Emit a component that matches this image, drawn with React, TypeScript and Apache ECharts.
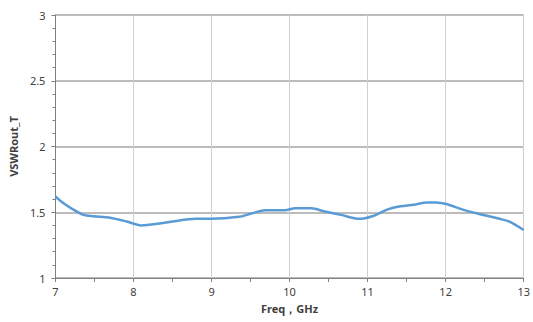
import React, { useEffect, useRef } from "react";
import * as echarts from "echarts";

const freqs = [7.0, 7.1, 7.23, 7.36, 7.49, 7.7, 7.91, 8.1, 8.29, 8.5, 8.8, 9.0, 9.35, 9.51, 9.69, 9.94, 10.07, 10.28, 10.45, 10.66, 10.89, 11.06, 11.25, 11.42, 11.59, 11.76, 11.88, 12.01, 12.22, 12.43, 12.69, 12.81, 13.0];
const vswr = [1.62, 1.57, 1.52, 1.48, 1.47, 1.458, 1.43, 1.4, 1.41, 1.43, 1.45, 1.45, 1.465, 1.49, 1.515, 1.515, 1.53, 1.53, 1.505, 1.48, 1.45, 1.47, 1.52, 1.545, 1.557, 1.575, 1.575, 1.563, 1.52, 1.487, 1.45, 1.43, 1.365];
const xName = "Freq，GHz";
const yName = "VSWRout_T";

export default function App() {
  const ref = useRef<HTMLDivElement>(null);
  useEffect(() => {
    const chart = echarts.init(ref.current!, null, { renderer: "svg" });
    const font = "'Noto Sans', sans-serif";
    chart.setOption({
      animation: false,
      grid: { left: 55, right: 5, top: 15, bottom: 44 },
      xAxis: {
        type: "value",
        min: 7,
        max: 13,
        interval: 1,
        name: xName,
        nameLocation: "middle",
        nameGap: 25,
        nameTextStyle: { fontFamily: font, fontSize: 11, fontWeight: "bold", color: "#404040" },
        axisLine: { show: true, lineStyle: { color: "#7f7f7f", width: 1 } },
        axisTick: { show: true, length: 4, lineStyle: { color: "#7f7f7f" } },
        minorTick: { show: true, splitNumber: 2, length: 4, lineStyle: { color: "#7f7f7f" } },
        axisLabel: { fontFamily: font, fontSize: 11, color: "#404040", margin: 8 },
        splitLine: { show: true, lineStyle: { color: "#d0d0d0", width: 1 } },
      },
      yAxis: {
        type: "value",
        min: 1,
        max: 3,
        interval: 0.5,
        name: yName,
        nameLocation: "middle",
        nameGap: 30,
        nameTextStyle: { fontFamily: font, fontSize: 11, fontWeight: "bold", color: "#404040" },
        axisLine: { show: true, lineStyle: { color: "#7f7f7f", width: 1 } },
        axisTick: { show: true, length: 4, lineStyle: { color: "#7f7f7f" } },
        minorTick: { show: true, splitNumber: 5, length: 3, lineStyle: { color: "#7f7f7f" } },
        axisLabel: { fontFamily: font, fontSize: 11, color: "#404040", margin: 10 },
        splitLine: { show: true, lineStyle: { color: "#a6a6a6", width: 1.5 } },
      },
      series: [
        {
          type: "line",
          data: freqs.map((f, i) => [f, vswr[i]]),
          showSymbol: false,
          smooth: 0.3,
          lineStyle: { color: "#5b9bd5", width: 2.5 },
        },
      ],
    });
    return () => chart.dispose();
  }, []);
  return <div ref={ref} style={{ width: 533, height: 322, position: "absolute", left: 0, top: 0 }} />;
}
